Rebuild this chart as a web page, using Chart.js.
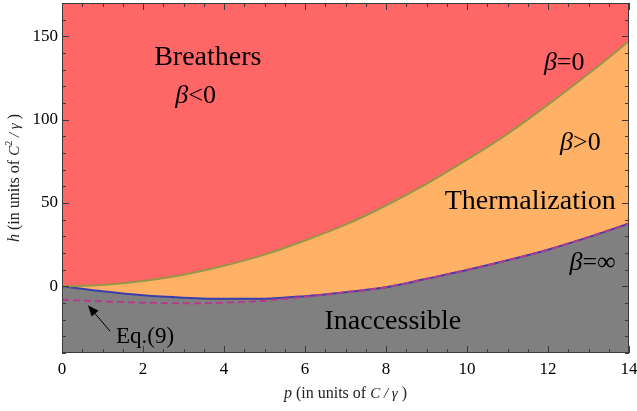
<!DOCTYPE html>
<html>
<head>
<meta charset="utf-8">
<script src="https://cdn.jsdelivr.net/npm/chart.js@4.4.1/dist/chart.umd.min.js"></script>
<style>
  html, body { margin: 0; padding: 0; background: #fff; }
  #wrap { width: 637px; height: 411px; }
</style>
</head>
<body>
<div id="wrap"><canvas id="phase"></canvas></div>
<script>
// p in units of C/gamma, h in units of C^2/gamma
const pValues   = [0, 1, 2, 3, 4, 5, 6, 7, 8, 9, 10, 11, 12, 13, 14];
const hBetaZero = [0, 0.8, 3.2, 7, 12.3, 19, 27.5, 37, 48.5, 61.5, 76, 91.5, 109, 127.5, 147];
const hBetaInf  = [0, -3, -5.4, -6.8, -7.5, -7.4, -5.9, -3.5, -0.6, 4.5, 9.8, 15.6, 22, 29.5, 37.7];
const hEq9      = [-8, -9, -9.8, -10.2, -9.8, -8.6, -6.3, -3.6, -0.6, 4.5, 9.8, 15.6, 22, 29.5, 37.7];

const xTicks = [0, 2, 4, 6, 8, 10, 12, 14];
const yTicks = [0, 50, 100, 150];

const RED = 'rgb(255,102,102)';
const ORANGE = 'rgb(255,178,102)';
const GREY = 'rgb(128,128,128)';
const SERIF = "'Liberation Serif', 'Times New Roman', serif";

function toPoints(ys) {
  return pValues.map((p, i) => ({ x: p, y: ys[i] }));
}

// draw a row of text pieces with different styles, centred on x
function drawRuns(ctx, runs, x, y) {
  let total = 0;
  runs.forEach(r => {
    ctx.font = r.font;
    r.w = ctx.measureText(r.text).width;
    total += r.w;
  });
  let cx = x - total / 2;
  runs.forEach(r => {
    ctx.font = r.font;
    ctx.fillText(r.text, cx, y + (r.dy || 0));
    cx += r.w;
  });
}

function beta(size, rest) {
  return [
    { text: 'β', font: 'italic ' + size + 'px ' + SERIF },
    { text: rest, font: size + 'px ' + SERIF }
  ];
}

const labels = [
  { p: 3.6, h: 137, runs: [{ text: 'Breathers', font: '28px ' + SERIF }] },
  { p: 3.3, h: 114, runs: beta(26, '<0') },
  { p: 12.4, h: 134, runs: beta(26, '=0') },
  { p: 12.8, h: 86, runs: beta(26, '>0') },
  { p: 11.56, h: 51, runs: [{ text: 'Thermalization', font: '28px ' + SERIF }] },
  { p: 13.1, h: 14, runs: beta(26, '=∞') },
  { p: 8.17, h: -21, runs: [{ text: 'Inaccessible', font: '28px ' + SERIF }] },
  { p: 2.05, h: -30.5, runs: [{ text: 'Eq.(9)', font: '23px ' + SERIF }] }
];

const framePlugin = {
  id: 'framePlugin',
  beforeDraw(chart) {
    const { ctx, chartArea: a } = chart;
    ctx.save();
    ctx.fillStyle = ORANGE;
    ctx.fillRect(a.left, a.top, a.right - a.left, a.bottom - a.top);
    ctx.restore();
  },
  afterDraw(chart) {
    const { ctx, chartArea: a } = chart;
    const xs = chart.scales.x, ys = chart.scales.y;
    ctx.save();

    // frame
    ctx.strokeStyle = '#3a3a3a';
    ctx.lineWidth = 1;
    ctx.strokeRect(a.left + 0.5, a.top + 0.5, a.right - a.left - 1, a.bottom - a.top - 1);

    // inward ticks, all four sides
    ctx.beginPath();
    for (let v = 0; v <= 14.001; v += 0.5) {
      const x = Math.round(xs.getPixelForValue(v)) + 0.5;
      const len = (v % 2 === 0) ? 7 : 4;
      ctx.moveTo(x, a.bottom); ctx.lineTo(x, a.bottom - len);
      ctx.moveTo(x, a.top); ctx.lineTo(x, a.top + len);
    }
    for (let v = -40; v <= 170; v += 10) {
      const y = Math.round(ys.getPixelForValue(v)) + 0.5;
      const len = (v % 50 === 0) ? 7 : 4;
      ctx.moveTo(a.left, y); ctx.lineTo(a.left + len, y);
      ctx.moveTo(a.right, y); ctx.lineTo(a.right - len, y);
    }
    ctx.stroke();

    // region labels
    ctx.fillStyle = '#000';
    ctx.textBaseline = 'middle';
    ctx.textAlign = 'left';
    labels.forEach(l => {
      drawRuns(ctx, l.runs, xs.getPixelForValue(l.p), ys.getPixelForValue(l.h));
    });

    // arrow for Eq.(9)
    const tx = xs.getPixelForValue(1.19), ty = ys.getPixelForValue(-27);
    const hx = xs.getPixelForValue(0.64), hy = ys.getPixelForValue(-11.4);
    const ang = Math.atan2(hy - ty, hx - tx);
    ctx.strokeStyle = '#000';
    ctx.lineWidth = 1;
    ctx.beginPath();
    ctx.moveTo(tx, ty);
    ctx.lineTo(hx - 6 * Math.cos(ang), hy - 6 * Math.sin(ang));
    ctx.stroke();
    ctx.beginPath();
    ctx.moveTo(hx, hy);
    ctx.lineTo(hx - 11 * Math.cos(ang) + 4.5 * Math.sin(ang), hy - 11 * Math.sin(ang) - 4.5 * Math.cos(ang));
    ctx.lineTo(hx - 11 * Math.cos(ang) - 4.5 * Math.sin(ang), hy - 11 * Math.sin(ang) + 4.5 * Math.cos(ang));
    ctx.closePath();
    ctx.fill();

    // axis titles
    ctx.fillStyle = '#222';
    ctx.textBaseline = 'alphabetic';
    drawRuns(ctx, [
      { text: 'p', font: 'italic 16px ' + SERIF },
      { text: ' (in units of ', font: '16px ' + SERIF },
      { text: 'C / γ', font: 'italic 15px ' + SERIF },
      { text: ' )', font: '16px ' + SERIF }
    ], (a.left + a.right) / 2, 398);

    ctx.translate(19, (a.top + a.bottom) / 2);
    ctx.rotate(-Math.PI / 2);
    drawRuns(ctx, [
      { text: 'h', font: 'italic 16px ' + SERIF },
      { text: ' (in units of ', font: '16px ' + SERIF },
      { text: 'C', font: 'italic 15px ' + SERIF },
      { text: '2', font: '10px ' + SERIF, dy: -7 },
      { text: ' / γ', font: 'italic 15px ' + SERIF },
      { text: ' )', font: '16px ' + SERIF }
    ], 0, 0);
    ctx.restore();
  }
};

const ctx = document.getElementById('phase').getContext('2d');
const phaseChart = new Chart(ctx, {
  type: 'line',
  data: {
    datasets: [{
      label: 'beta = 0',
      data: toPoints(hBetaZero),
      borderColor: 'rgb(150,150,70)',
      borderWidth: 2,
      backgroundColor: RED,
      fill: 'end',
      pointRadius: 0,
      cubicInterpolationMode: 'monotone'
    }, {
      label: 'Eq.(9)',
      data: toPoints(hEq9),
      borderColor: 'rgb(180,60,140)',
      borderWidth: 2,
      borderDash: [7, 4],
      fill: false,
      pointRadius: 0,
      cubicInterpolationMode: 'monotone'
    }, {
      label: 'beta = infinity',
      data: toPoints(hBetaInf),
      borderColor: 'rgb(60,60,175)',
      borderWidth: 2,
      backgroundColor: GREY,
      fill: 'start',
      pointRadius: 0,
      cubicInterpolationMode: 'monotone'
    }]
  },
  options: {
    responsive: true,
    maintainAspectRatio: false,
    animation: false,
    layout: { padding: { top: 3, right: 8, left: 0, bottom: 0 } },
    plugins: {
      legend: { display: false },
      tooltip: { enabled: false }
    },
    scales: {
      x: {
        type: 'linear',
        min: 0,
        max: 14,
        afterBuildTicks: s => { s.ticks = xTicks.map(v => ({ value: v })); },
        afterFit: s => { s.height = 58; s.paddingLeft = 0; s.paddingRight = 0; },
        grid: { display: false, drawTicks: false },
        border: { display: false },
        ticks: { color: '#000', padding: 6, maxRotation: 0, font: { family: SERIF, size: 17 } }
      },
      y: {
        min: -40,
        max: 170,
        afterBuildTicks: s => { s.ticks = yTicks.map(v => ({ value: v })); },
        afterFit: s => { s.width = 62; s.paddingTop = 0; s.paddingBottom = 0; },
        grid: { display: false, drawTicks: false },
        border: { display: false },
        ticks: { color: '#000', padding: 4, font: { family: SERIF, size: 17 } }
      }
    }
  },
  plugins: [framePlugin]
});
</script>
</body>
</html>
